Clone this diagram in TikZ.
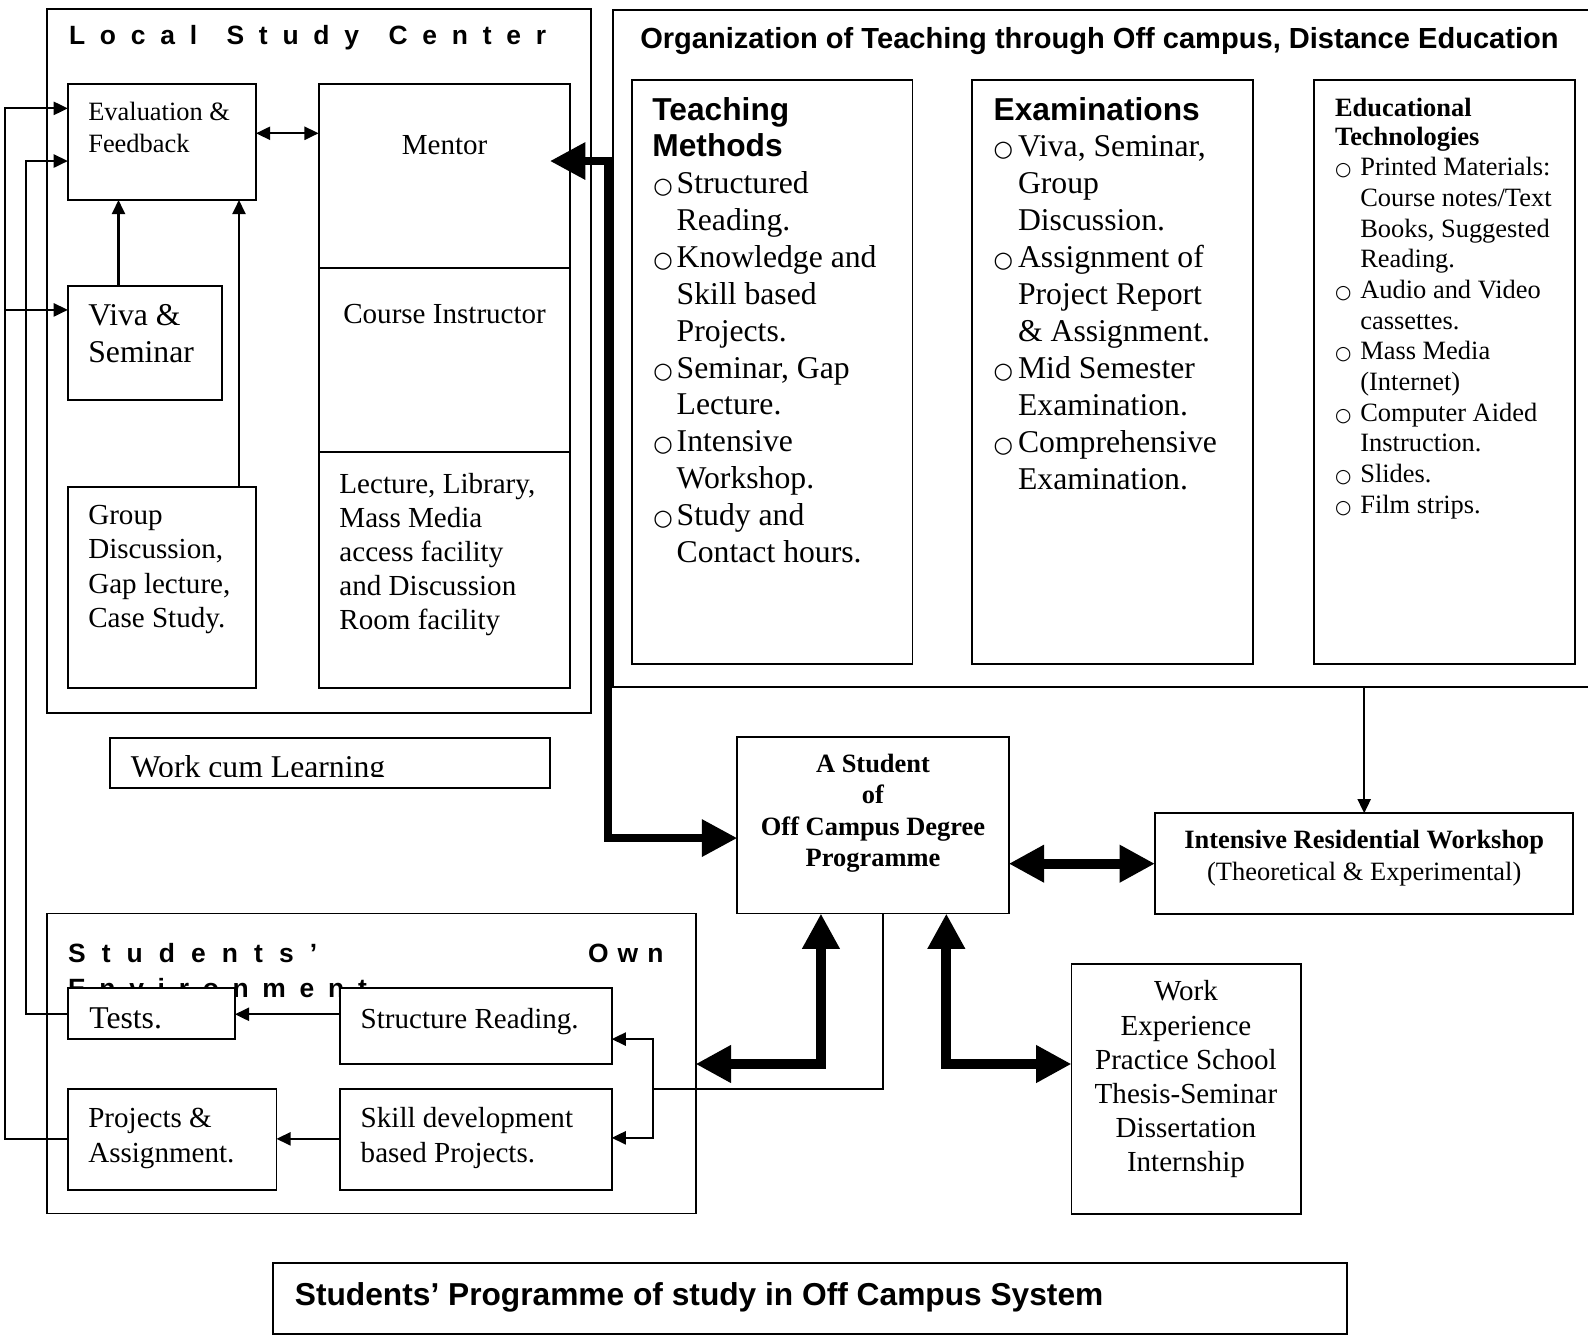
\documentclass[tikz,border=0pt]{standalone}
\usepackage{fontspec}
\setmainfont{Liberation Serif}
\newfontfamily\arialf{Liberation Sans}
\newfontfamily\symf{DejaVu Sans}
\usetikzlibrary{arrows.meta}
\newcommand\fsz[2]{\fontsize{#1pt}{#2pt}\selectfont}
\newcommand\fl{\rule{0pt}{0.8em}}
\newcommand\blt[2]{\makebox[#1pt][l]{\symf\fontsize{#2pt}{#2pt}\selectfont ○}}
\newcommand\ind[1]{\hspace*{#1pt}}
\newcommand\bx[5]{\node[nbox,anchor=north west,minimum width={(#4-#2)*1pt},minimum height={(#5-#3)*1pt}] (#1) at (#2,#3) {};}
\begin{document}
\begin{tikzpicture}[x=1pt,y=-1pt,
  nbox/.style={draw, line width=1.9pt, inner sep=0pt, outer sep=0pt, fill=white},
  txt/.style={inner sep=0pt, anchor=north west, align=left},
  ctxt/.style={inner sep=0pt, anchor=north, align=center},
  btxt/.style={inner sep=0pt, anchor=base west},
  cbtxt/.style={inner sep=0pt, anchor=base},
  thinline/.style={line width=1.7pt},
  thinarr/.style={line width=2pt, -{Triangle[length=14pt,width=13pt]}},
  thinboth/.style={line width=2pt, {Triangle[length=14pt,width=13pt]}-{Triangle[length=14pt,width=13pt]}},
  thickboth/.style={line width=10pt, {Triangle[length=35pt,width=35pt]}-{Triangle[length=35pt,width=35pt]}}
]
\useasboundingbox (0,0) rectangle (1568,1318);

% outer frames
\bx{lsc}{46.2}{9.2}{583.5}{703.7}
\bx{org}{605}{10}{1580}{678.5}

% local study center boxes
\bx{eval}{67}{83}{252.8}{197.5}
\bx{mentor}{314.6}{83}{562.8}{264.6}
\bx{course}{314.6}{264.6}{562.8}{446}
\bx{lecture}{314.6}{446}{562.8}{679}
\bx{viva}{67}{282}{219}{395}
\bx{group}{67}{480.5}{252.8}{679}
\bx{wcl}{108.6}{728.4}{542.7}{778.3}

% organisation boxes
\bx{teach}{624}{79}{901}{656}
\bx{exam}{960}{79}{1237}{656}
\bx{edtech}{1297}{79}{1555}{656}

% central boxes
\bx{student}{728}{727.7}{996}{902}
\bx{irw}{1140.4}{803}{1553}{902.5}
\bx{workexp}{1058}{952}{1284.6}{1199}

% students' own environment
\bx{soe}{46.2}{902}{686.8}{1198.2}
\node[btxt, font=\arialf\bfseries\fsz{26.1}{30}] (soet1) at (67,950.5) {\makebox[246pt][s]{S t u d e n t s ’}};
\node[btxt, font=\arialf\bfseries\fsz{26.1}{30}] (soet2) at (580.5,950.5) {\makebox[74.5pt][s]{O w n}};
\node[btxt, font=\arialf\bfseries\fsz{26.1}{30}] (soet3) at (67,984.6) {\makebox[295pt][s]{E n v i r o n m e n t}};
\bx{tests}{67}{975.7}{232}{1026}
\bx{structure}{335.6}{975.6}{604}{1050.6}
\bx{projects}{67}{1075}{273}{1175}
\bx{skill}{335.6}{1075}{604}{1175}

\bx{bottom}{270}{1247}{1330}{1317}

% ---------- texts ----------
\node[btxt, font=\arialf\bfseries\fsz{26.1}{30}] (lsct) at (68,44.4) {\makebox[471pt][s]{L o c a l\ \ S t u d y\ \ C e n t e r}};
\node[txt, font=\fsz{26.1}{31.5}] (evaltxt) at (87,97.6) {\fl Evaluation \&\\Feedback};
\node[cbtxt, font=\fsz{28.7}{33}] (mentortxt) at (439,152.5) {Mentor};
\node[cbtxt, font=\fsz{28.7}{33}] (coursetxt) at (439,319.5) {Course Instructor};
\node[txt, font=\fsz{28.7}{33.5}] (lecturetxt) at (335,464) {\fl Lecture, Library,\\Mass Media\\access facility\\and Discussion\\Room facility};
\node[txt, font=\fsz{31.3}{36}] (vivatxt) at (87,296.5) {\fl Viva \&\\Seminar};
\node[txt, font=\fsz{28.7}{34}] (grouptxt) at (87,494.5) {\fl Group\\Discussion,\\Gap lecture,\\Case Study.};
\begin{scope}
\clip (108.6,728.4) rectangle (542.7,766.5);
\node[btxt, font=\fsz{31.3}{36}] (wcltxt) at (129,768) {Work cum Learning};
\end{scope}

\node[btxt, font=\arialf\bfseries\fsz{28.7}{33}] (orgtxt) at (632,47.5) {Organization of Teaching through Off campus, Distance Education};
\node[txt, font=\arialf\bfseries\fsz{31.3}{36}] (teachhdr) at (644,93.5) {\fl Teaching\\Methods};
\node[txt, font=\fsz{31.3}{36.5}] (teachtxt) at (645,165.5) {\fl\blt{23}{22}Structured\\\ind{23}Reading.\\\blt{23}{22}Knowledge and\\\ind{23}Skill based\\\ind{23}Projects.\\\blt{23}{22}Seminar, Gap\\\ind{23}Lecture.\\\blt{23}{22}Intensive\\\ind{23}Workshop.\\\blt{23}{22}Study and\\\ind{23}Contact hours.};
\node[btxt, font=\arialf\bfseries\fsz{31.3}{36}] (examhdr) at (981,118.5) {Examinations};
\node[txt, font=\fsz{31.3}{36.5}] (examtxt) at (981,129.5) {\fl\blt{24}{22}Viva, Seminar,\\\ind{24}Group\\\ind{24}Discussion.\\\blt{24}{22}Assignment of\\\ind{24}Project Report\\\ind{24}\& Assignment.\\\blt{24}{22}Mid Semester\\\ind{24}Examination.\\\blt{24}{22}Comprehensive\\\ind{24}Examination.};
\node[txt, font=\bfseries\fsz{26.1}{29}] (edhdr) at (1318,93.6) {\fl Educational\\Technologies};
\node[txt, font=\fsz{26.1}{30.3}] (edtxt) at (1318,152.4) {\fl\blt{25}{18.5}Printed Materials:\\\ind{25}Course notes/Text\\\ind{25}Books, Suggested\\\ind{25}Reading.\\\blt{25}{18.5}Audio and Video\\\ind{25}cassettes.\\\blt{25}{18.5}Mass Media\\\ind{25}(Internet)\\\blt{25}{18.5}Computer Aided\\\ind{25}Instruction.\\\blt{25}{18.5}Slides.\\\blt{25}{18.5}Film strips.};

\node[ctxt, font=\bfseries\fsz{26.1}{31}] (studenttxt) at (862,741.6) {\fl A Student\\of\\Off Campus Degree\\Programme};
\node[ctxt, font=\fsz{26.1}{32}] (irwtxt) at (1347,816.6) {\fl\textbf{Intensive Residential Workshop}\\(Theoretical \& Experimental)};
\node[ctxt, font=\fsz{28.7}{33.8}] (workexptxt) at (1171,965) {\fl Work\\Experience\\Practice School\\Thesis-Seminar\\Dissertation\\Internship};

\node[btxt, font=\fsz{31.3}{36}] (teststxt) at (88,1016) {Tests.};
\node[btxt, font=\fsz{28.7}{33}] (structtxt) at (356,1016) {Structure Reading.};
\node[txt, font=\fsz{28.7}{34.6}] (projtxt) at (87,1090.4) {\fl Projects \&\\Assignment.};
\node[txt, font=\fsz{28.7}{34.6}] (skilltxt) at (356,1090.4) {\fl Skill development\\based Projects.};

\node[btxt, font=\arialf\bfseries\fsz{31.3}{36}] (bottomtxt) at (291,1289.5) {Students’ Programme of study in Off Campus System};

% ---------- helper coordinates ----------
\coordinate (yem) at (0,131.6);
\coordinate (xv) at (117,0);
\coordinate (xg) at (236,0);
\coordinate (xo) at (4.6,0);
\coordinate (xi) at (25.5,0);
\coordinate (ye1) at (0,107);
\coordinate (ye2) at (0,159);
\coordinate (yv) at (0,306);
\coordinate (yt) at (0,1001.5);
\coordinate (yp) at (0,1124.5);
\coordinate (mtip) at (543,159);
\coordinate (xt) at (600.5,0);
\coordinate (ys) at (0,827.5);
\coordinate (yi) at (0,852.8);
\coordinate (xa) at (810.6,0);
\coordinate (xb) at (934.4,0);
\coordinate (yb) at (0,1050.6);
\coordinate (xc) at (872,0);
\coordinate (yc) at (0,1075.6);
\coordinate (xbr) at (644.6,0);
\coordinate (ysr) at (0,1026);
\coordinate (ysk) at (0,1123.5);
\coordinate (xd) at (1347,0);

% ---------- connectors ----------
\draw[thinboth] (eval.east |- yem) -- (mentor.west |- yem);
\draw[thinarr] (viva.north -| xv) -- (eval.south -| xv);
\draw[thinarr] (group.north -| xg) -- (eval.south -| xg);
\draw[thinarr] (projects.west |- yp) -| (xo |- ye1) -- (eval.west |- ye1);
\draw[thinarr] (xo |- yv) -- (viva.west |- yv);
\draw[thinarr] (tests.west |- yt) -| (xi |- ye2) -- (eval.west |- ye2);
\draw[thinarr] (structure.west |- yt) -- (tests.east |- yt);
\draw[thinarr] (skill.west |- yp) -- (projects.east |- yp);
\draw[thinline] (student.south -| xc) |- (xbr |- yc);
\draw[thinarr] (xbr |- yc) |- (structure.east |- ysr);
\draw[thinarr] (xbr |- yc) |- (skill.east |- ysk);
\draw[thinarr, line width=1.7pt] (org.south -| xd) -- (irw.north -| xd);

\draw[thickboth, line width=8pt] (mtip) -| (xt |- ys) -- (student.west |- ys);
\draw[thickboth] (student.east |- yi) -- (irw.west |- yi);
\draw[thickboth] (soe.east |- yb) -| (student.south -| xa);
\draw[thickboth] (student.south -| xb) |- (workexp.west |- yb);
\end{tikzpicture}
\end{document}
